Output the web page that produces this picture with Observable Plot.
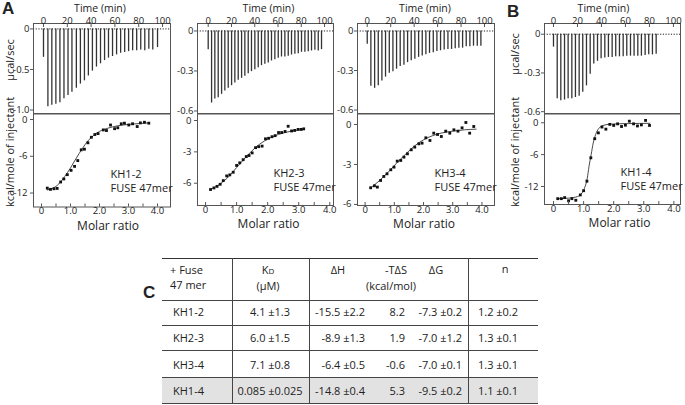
<!DOCTYPE html>
<html><head><meta charset="utf-8">
<script src="https://cdn.jsdelivr.net/npm/d3@7"></script>
<script src="https://cdn.jsdelivr.net/npm/@observablehq/plot@0.6"></script>
<style>
html,body{margin:0;padding:0;background:#fff;}
#fig{position:relative;width:685px;height:405px;overflow:hidden;font-family:"Open Sans",sans-serif;color:#222;background:#fff;}
.ylab{position:absolute;white-space:nowrap;font-size:11px;line-height:12px;transform:translate(-50%,-50%) rotate(-90deg);}
.letter{position:absolute;font-family:"Liberation Sans",Arial,sans-serif;font-weight:bold;font-size:17px;line-height:17px;}
.cell{position:absolute;white-space:nowrap;font-size:11px;line-height:16px;height:16px;}
.hl{position:absolute;height:0;border-top:1px solid #444;}
.vl{position:absolute;width:0;border-left:1px solid #444;}
</style></head>
<body><div id="fig"></div>
<script>
// ---------- data ----------
const timeTicks = [0, 20, 40, 60, 80, 100];
const ratioTicks = [0, 1, 2, 3, 4];
const ratioTickLabels = ["0", "1.0", "2.0", "3.0", "4.0"];
const ratioMinorTicks = [0, 0.5, 1, 1.5, 2, 2.5, 3, 3.5, 4];

const powerTicksA = [0, -0.5, -1.0];
const powerTickLabelsA = ["0", "-0.5", "-1.0"];
const powerTicksB = [0, -0.3, -0.6];
const powerTickLabelsB = ["0", "-0.3", "-0.6"];
const heatTicks12 = [0, -6, -12];
const heatTickLabels12 = ["0", "-6", "-12"];
const heatTicks6 = [0, -3, -6];
const heatTickLabels6 = ["0", "-3", "-6"];

// KH1-2
const kh12Time = [0,3.7,7.0,10.4,13.8,17.2,20.6,23.9,27.6,31.0,34.4,37.7,41.1,44.5,47.9,51.3,54.6,58.0,61.4,64.8,68.2,71.5,74.9,78.3,81.7,85.1,88.5,91.8,95.8];
const kh12Power = [-0.35,-0.96,-0.94,-0.93,-0.91,-0.86,-0.82,-0.78,-0.73,-0.68,-0.64,-0.58,-0.52,-0.47,-0.43,-0.39,-0.36,-0.34,-0.32,-0.30,-0.29,-0.28,-0.27,-0.27,-0.26,-0.27,-0.25,-0.26,-0.23];
const kh12Ratio = [0.20,0.31,0.43,0.54,0.66,0.77,0.89,1.02,1.14,1.25,1.37,1.48,1.60,1.72,1.84,1.95,2.13,2.24,2.38,2.52,2.63,2.75,2.86,3.01,3.14,3.30,3.41,3.55,3.70];
const kh12Heat = [-11.2,-11.4,-11.3,-11.25,-10.2,-9.7,-9.0,-8.3,-7.65,-6.7,-4.95,-4.85,-3.8,-2.9,-2.45,-2.3,-1.7,-1.8,-0.9,-1.5,-1.35,-0.7,-0.6,-0.9,-0.7,-1.15,-0.55,-0.45,-0.6];
const kh12FitRatio = [0.2,0.4,0.6,0.8,1.0,1.2,1.4,1.6,1.8,2.0,2.3,2.6,3.0,3.4,3.7];
const kh12FitHeat = [-11.5,-11.2,-10.5,-9.3,-7.9,-6.3,-4.8,-3.5,-2.6,-1.95,-1.4,-1.05,-0.8,-0.65,-0.55];

// KH2-3
const kh23Time = [0,2.9,5.7,8.6,11.5,14.3,17.2,20.1,22.9,25.8,28.7,31.5,34.4,37.2,40.1,43.0,45.8,48.7,51.6,54.4,57.3,60.2,63.0,65.9,68.8,71.6,74.5,77.4,80.2,83.1,86.0,88.8,91.7,94.6,97.4];
const kh23Power = [-0.14,-0.54,-0.51,-0.50,-0.475,-0.45,-0.43,-0.41,-0.39,-0.37,-0.355,-0.34,-0.32,-0.305,-0.29,-0.275,-0.26,-0.25,-0.24,-0.225,-0.215,-0.205,-0.195,-0.195,-0.19,-0.18,-0.175,-0.17,-0.16,-0.16,-0.155,-0.15,-0.145,-0.15,-0.14];
const kh23Ratio = [0.16,0.27,0.37,0.47,0.57,0.68,0.78,0.89,1.00,1.10,1.21,1.31,1.40,1.50,1.61,1.71,1.82,1.93,2.03,2.14,2.24,2.35,2.45,2.56,2.66,2.77,2.87,2.98,3.08,3.16];
const kh23Heat = [-6.6,-6.45,-6.3,-6.1,-5.75,-5.3,-5.2,-4.95,-4.3,-4.05,-3.75,-3.45,-3.35,-3.1,-2.6,-2.5,-2.45,-1.75,-1.7,-1.55,-1.45,-1.15,-1.15,-1.05,-0.55,-1.0,-0.95,-0.85,-0.85,-0.8];
const kh23FitRatio = [0.15,0.4,0.7,1.0,1.3,1.6,1.9,2.2,2.5,2.8,3.15];
const kh23FitHeat = [-6.6,-6.2,-5.5,-4.5,-3.5,-2.6,-1.95,-1.5,-1.2,-1.0,-0.85];

// KH3-4
const kh34Time = [0,3.1,6.3,9.4,12.5,15.6,18.8,21.9,25.0,28.1,31.3,34.4,37.5,40.6,43.8,46.9,50.0,53.1,56.3,59.4,62.5,65.6,68.8,71.9,75.0,78.1,81.3,84.4,87.5,90.6,93.8,96.9];
const kh34Power = [-0.10,-0.42,-0.435,-0.415,-0.38,-0.35,-0.32,-0.31,-0.29,-0.27,-0.26,-0.24,-0.225,-0.215,-0.20,-0.19,-0.18,-0.17,-0.165,-0.155,-0.15,-0.145,-0.14,-0.14,-0.135,-0.13,-0.13,-0.12,-0.12,-0.115,-0.115,-0.115];
const kh34Ratio = [0.19,0.32,0.42,0.53,0.64,0.75,0.88,0.99,1.10,1.22,1.33,1.45,1.58,1.70,1.84,1.95,2.08,2.22,2.35,2.48,2.61,2.76,2.90,3.04,3.18,3.32,3.45,3.58,3.72];
const kh34Heat = [-4.75,-4.6,-4.7,-4.2,-3.9,-3.7,-3.4,-3.2,-2.75,-2.7,-2.45,-2.2,-1.9,-1.7,-1.45,-1.4,-1.0,-1.2,-0.65,-0.75,-0.9,-0.5,-0.65,-0.4,-0.5,-0.25,0.15,-0.65,-0.15];
const kh34FitRatio = [0.19,0.5,0.8,1.1,1.4,1.7,2.0,2.3,2.6,3.0,3.4,3.8];
const kh34FitHeat = [-4.75,-4.2,-3.55,-2.85,-2.2,-1.6,-1.15,-0.85,-0.65,-0.5,-0.4,-0.35];

// KH1-4
const kh14Time = [0,3.1,6.1,9.2,12.2,15.3,18.3,21.4,24.4,27.5,30.6,33.6,36.7,39.7,42.8,45.8,48.9,51.9,55.0,58.1,61.1,64.2,67.2,70.3,73.3,76.4,79.4,82.5,85.6];
const kh14Power = [-0.10,-0.50,-0.515,-0.51,-0.50,-0.50,-0.49,-0.48,-0.45,-0.40,-0.31,-0.23,-0.21,-0.19,-0.185,-0.18,-0.18,-0.175,-0.175,-0.175,-0.17,-0.17,-0.17,-0.17,-0.17,-0.165,-0.16,-0.16,-0.155];
const kh14Ratio = [0.14,0.26,0.37,0.50,0.61,0.74,0.89,1.00,1.11,1.24,1.37,1.49,1.61,1.74,1.87,2.00,2.13,2.26,2.39,2.52,2.66,2.79,2.92,3.06,3.19];
const kh14Heat = [-14.3,-14.3,-14.1,-14.7,-14.3,-14.6,-13.6,-12.8,-11.0,-6.6,-3.0,-1.9,-0.8,-1.2,-0.3,-0.5,-0.2,-0.7,-0.45,0.3,-0.2,-0.6,-0.4,0.45,-0.5];
const kh14FitRatio = [0.14,0.5,0.8,0.95,1.05,1.12,1.18,1.25,1.32,1.4,1.5,1.65,1.9,2.5,3.2];
const kh14FitHeat = [-14.3,-14.2,-13.9,-13.2,-12.0,-10.5,-8.2,-6.0,-3.8,-2.2,-1.1,-0.5,-0.25,-0.15,-0.1];

// table
const tableHeadConstruct = ["+ Fuse", "47 mer"];
const tableConstructs = ["KH1-2", "KH2-3", "KH3-4", "KH1-4"];
const tableKd = ["4.1 \u00b11.3", "6.0 \u00b11.5", "7.1 \u00b10.8", "0.085 \u00b10.025"];
const tableDH = ["-15.5 \u00b12.2", "-8.9 \u00b11.3", "-6.4 \u00b10.5", "-14.8 \u00b10.4"];
const tableTdS = ["8.2", "1.9", "-0.6", "5.3"];
const tableDG = ["-7.3 \u00b10.2", "-7.0 \u00b11.2", "-7.0 \u00b10.1", "-9.5 \u00b10.2"];
const tableN = ["1.2 \u00b10.2", "1.3 \u00b10.1", "1.3 \u00b10.1", "1.1 \u00b10.1"];

// ---------- drawing ----------
const FONT = '"Open Sans", sans-serif';
const fig = document.getElementById("fig");
function place(node, left, top) {
  node.style.position = "absolute";
  node.style.left = left + "px";
  node.style.top = top + "px";
  fig.appendChild(node);
}
const zip = (a, b) => a.map((v, i) => ({a: v, b: b[i]}));
const lab = (ticks, labels) => d => labels[ticks.findIndex(t => Math.abs(t - d) < 1e-9)];

function thermogram(p) {
  const mL = 40, mR = 8, mT = 23, mB = 2;
  const [x0, x1, y0, y1] = p.frame;
  const chart = Plot.plot({
    width: x1 - x0 + mL + mR, height: y1 - y0 + mT + mB,
    marginLeft: mL, marginRight: mR, marginTop: mT, marginBottom: mB,
    x: {domain: p.xDomain}, y: {domain: p.yDomain},
    style: {fontFamily: FONT, fontSize: "10px", background: "transparent", overflow: "visible", color: "#222"},
    marks: [
      Plot.ruleX(zip(p.time, p.power), {x: "a", y1: 0, y2: "b", stroke: "#333", strokeWidth: 1.3}),
      Plot.ruleY([0], {stroke: "#222", strokeDasharray: "1.2,1.5"}),
      Plot.frame({stroke: "#555"}),
      Plot.axisX(timeTicks, {anchor: "top", tickSize: 0, tickPadding: 0, fontSize: 9.5, tickFormat: d => String(d), label: null}),
      Plot.axisX(timeTicks, {anchor: "top", tickSize: 3, dy: 3, tickFormat: () => "", label: null, stroke: "#555"}),
      Plot.axisY(p.yTicks, {anchor: "left", tickSize: 3, tickPadding: 1, fontSize: 9.5, tickFormat: lab(p.yTicks, p.yLabels), label: null, stroke: "#555"}),
      Plot.text(["Time (min)"], {frameAnchor: "top", dy: -18.5, dx: p.titleDx, fontSize: 10.5})
    ]
  });
  place(chart, x0 - mL, y0 - mT);
}

function isotherm(p) {
  const mL = 40, mR = 8, mT = 2, mB = 32;
  const [x0, x1, y0, y1] = p.frame;
  const chart = Plot.plot({
    width: x1 - x0 + mL + mR, height: y1 - y0 + mT + mB,
    marginLeft: mL, marginRight: mR, marginTop: mT, marginBottom: mB,
    x: {domain: p.xDomain}, y: {domain: p.yDomain},
    style: {fontFamily: FONT, fontSize: "10px", background: "transparent", overflow: "visible", color: "#222"},
    marks: [
      Plot.frame({stroke: "#555"}),
      Plot.line(zip(p.fitRatio, p.fitHeat), {x: "a", y: "b", curve: "monotone-x", stroke: "#333", strokeWidth: 0.9}),
      Plot.dot(zip(p.ratio, p.heat), {x: "a", y: "b", symbol: "square", r: 1.6, fill: "#111", stroke: "none"}),
      Plot.axisX(ratioTicks, {anchor: "bottom", tickSize: 0, tickPadding: 0.5, fontSize: 9.5, tickFormat: lab(ratioTicks, ratioTickLabels), label: null}),
      Plot.axisX(ratioMinorTicks, {anchor: "bottom", tickSize: 3, dy: -3, tickFormat: () => "", label: null, stroke: "#555"}),
      Plot.axisY(p.yTicks, {anchor: "left", tickSize: 3, tickPadding: 3, fontSize: 9.5, tickFormat: lab(p.yTicks, p.yLabels), label: null, stroke: "#555"}),
      Plot.text(["Molar ratio"], {frameAnchor: "bottom", dy: 22.5, dx: p.titleDx, fontSize: 12}),
      Plot.text([p.name], {frameAnchor: "bottom-right", dx: -60, dy: -29, textAnchor: "start", fontSize: 11}),
      Plot.text(["FUSE 47mer"], {frameAnchor: "bottom-right", dx: -60, dy: -15, textAnchor: "start", fontSize: 11})
    ]
  });
  place(chart, x0 - mL, y0 - mT);
}

// panel geometry (frames in page pixels, domains matching the original axes)
thermogram({frame: [33, 170, 22.5, 113], xDomain: [-8.4, 106.7], yDomain: [-1.049, 0.067],
  time: kh12Time, power: kh12Power, yTicks: powerTicksA, yLabels: powerTickLabelsA, titleDx: -2});
isotherm({frame: [33, 170, 113, 206.5], xDomain: [-0.276, 4.448], yDomain: [-14.28, 0.98],
  ratio: kh12Ratio, heat: kh12Heat, fitRatio: kh12FitRatio, fitHeat: kh12FitHeat,
  yTicks: heatTicks12, yLabels: heatTickLabels12, name: "KH1-2", titleDx: 6});

thermogram({frame: [197, 333, 22.5, 113], xDomain: [-9.2, 107.7], yDomain: [-0.6225, 0.056],
  time: kh23Time, power: kh23Power, yTicks: powerTicksB, yLabels: powerTickLabelsB, titleDx: 3});
isotherm({frame: [197, 333, 113, 205], xDomain: [-0.26, 4.12], yDomain: [-8.13, 0.67],
  ratio: kh23Ratio, heat: kh23Heat, fitRatio: kh23FitRatio, fitHeat: kh23FitHeat,
  yTicks: heatTicks6, yLabels: heatTickLabels6, name: "KH2-3", titleDx: 3});

thermogram({frame: [357, 494, 22.5, 113], xDomain: [-8.3, 108.5], yDomain: [-0.63, 0.057],
  time: kh34Time, power: kh34Power, yTicks: powerTicksB, yLabels: powerTickLabelsB, titleDx: -1});
isotherm({frame: [357, 494, 113, 205], xDomain: [-0.26, 4.43], yDomain: [-6.08, 0.825],
  ratio: kh34Ratio, heat: kh34Heat, fitRatio: kh34FitRatio, fitHeat: kh34FitHeat,
  yTicks: heatTicks6, yLabels: heatTickLabels6, name: "KH3-4", titleDx: -2});

thermogram({frame: [544, 680, 22.5, 113], xDomain: [-7.5, 105.9], yDomain: [-0.618, 0.083],
  time: kh14Time, power: kh14Power, yTicks: powerTicksB, yLabels: powerTickLabelsB, titleDx: -9});
isotherm({frame: [544, 680, 113, 204], xDomain: [-0.3, 4.22], yDomain: [-15.4, 1.75],
  ratio: kh14Ratio, heat: kh14Heat, fitRatio: kh14FitRatio, fitHeat: kh14FitHeat,
  yTicks: heatTicks12, yLabels: heatTickLabels12, name: "KH1-4", titleDx: 7});

// letters and axis titles
function addDiv(cls, html, style) {
  const d = document.createElement("div");
  d.className = cls; d.innerHTML = html;
  Object.assign(d.style, style);
  fig.appendChild(d);
  return d;
}
addDiv("letter", "A", {left: "2px", top: "0px"});
addDiv("letter", "B", {left: "507px", top: "3px"});
addDiv("letter", "C", {left: "143px", top: "284px"});
addDiv("ylab", "\u00b5cal/sec", {left: "10px", top: "60px"});
addDiv("ylab", "kcal/mole of injectant", {left: "10px", top: "152px"});
addDiv("ylab", "\u00b5cal/sec", {left: "515px", top: "54px"});
addDiv("ylab", "kcal/mole of injectant", {left: "515px", top: "152px"});

// table
const tL = 162, tR = 538;
const rowLines = [300, 325, 350, 376.5, 403];
const colLines = [232, 309, 468];
addDiv("", "", {position: "absolute", left: tL + "px", top: "376.5px", width: (tR - tL) + "px", height: "26.5px", background: "#e2e2e2"});
addDiv("hl", "", {left: tL + "px", top: "257.5px", width: (tR - tL) + "px", borderTop: "1.5px solid #333"});
rowLines.forEach(y => addDiv("hl", "", {left: tL + "px", top: y + "px", width: (tR - tL) + "px"}));
colLines.forEach(x => addDiv("vl", "", {left: x + "px", top: "258px", height: "145px"}));

function cell(text, x, yc, align) {
  const st = {top: (yc - 8) + "px"};
  if (align === "left") st.left = x + "px";
  else if (align === "right") { st.left = (x - 200) + "px"; st.width = "200px"; st.textAlign = "right"; }
  else { st.left = (x - 100) + "px"; st.width = "200px"; st.textAlign = "center"; }
  addDiv("cell", text, st);
}
cell(tableHeadConstruct[0], 170, 270, "left");
cell(tableHeadConstruct[1], 170, 284.5, "left");
cell('K<span style="font-size:8px">D</span>', 268, 270, "center");
cell("(\u00b5M)", 268, 286, "center");
cell("\u0394H", 338, 270, "center");
cell("-T\u0394S", 396, 270, "center");
cell("\u0394G", 436, 270, "center");
cell("(kcal/mol)", 391, 286, "center");
cell("n", 505, 269, "center");
const rowY = [311.5, 338, 364.5, 391];
tableConstructs.forEach((c, i) => {
  cell(c, 173, rowY[i], "left");
  cell(tableKd[i], 270, rowY[i], "center");
  cell(tableDH[i], 365, rowY[i], "right");
  cell(tableTdS[i], 405, rowY[i], "right");
  cell(tableDG[i], 462, rowY[i], "right");
  cell(tableN[i], 498, rowY[i], "center");
});
</script></body></html>
